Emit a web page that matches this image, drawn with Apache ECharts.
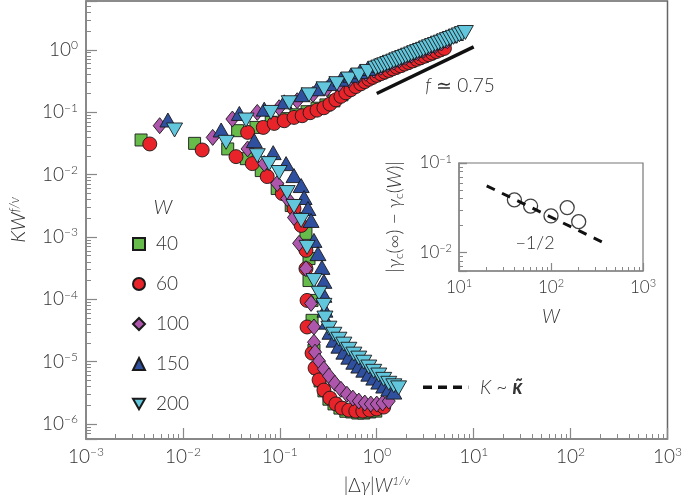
<!DOCTYPE html>
<html><head><meta charset="utf-8">
<script src="https://cdn.jsdelivr.net/npm/echarts@6/dist/echarts.min.js"></script>
<style>html,body{margin:0;padding:0;background:#fff}#c{width:685px;height:501px}</style>
</head><body><div id="c"></div>
<script>
// ---- main panel data: [|Δγ|W^{1/ν}, K W^{f/ν}] ----
const w40 = [
 [0.0037,0.0359],[0.0132,0.0317],
 [0.0367,0.0506],[0.0567,0.0571],[0.0815,0.069],[0.111,0.079],[0.147,0.091],[0.191,0.102],[0.242,0.116],[0.299,0.131],[0.361,0.152],[0.437,0.19],[0.515,0.235],[0.608,0.28],[0.718,0.32],[0.828,0.355],[0.954,0.39],[1.10,0.428],[1.27,0.465],[1.46,0.51],[1.68,0.555],[1.94,0.61],[2.24,0.665],[2.58,0.725],[2.97,0.79],[3.42,0.86],
 [0.029,0.0258],[0.0451,0.018],[0.0643,0.0116],[0.0939,0.00597],[0.131,0.00319],[0.158,0.00198],[0.186,0.00114],[0.200,4.5e-4],[0.200,2.0e-4],[0.215,9.6e-5],[0.215,4.6e-5],[0.225,1.53e-5],[0.242,7.9e-6],[0.26,4.9e-6],[0.285,3.4e-6],[0.321,2.5e-6],[0.362,2.1e-6],[0.417,1.8e-6],[0.48,1.6e-6],[0.553,1.56e-6],[0.638,1.5e-6],[0.735,1.5e-6],[0.847,1.56e-6],[0.977,1.61e-6]
];
const w60 = [
 [0.00455,0.031],[0.0158,0.0248],
 [0.0465,0.0475],[0.0675,0.0571],[0.0875,0.0662],[0.111,0.0731],[0.140,0.0826],[0.170,0.0879],[0.205,0.0982],[0.242,0.108],[0.285,0.118],[0.329,0.135],[0.379,0.158],[0.427,0.18],[0.480,0.205],[0.541,0.23],[0.608,0.258],[0.685,0.285],[0.753,0.31],[0.828,0.338],[0.910,0.363],[1.0,0.39],[1.10,0.415],[1.21,0.44],[1.33,0.468],[1.46,0.497],[1.61,0.528],[1.76,0.558],[1.94,0.592],[2.13,0.627],[2.34,0.664],[2.58,0.705],[2.83,0.746],[3.11,0.79],[3.42,0.838],[3.76,0.888],[4.13,0.94],[4.54,0.997],[4.99,1.056],
 [0.0353,0.0194],[0.052,0.015],[0.0741,0.0093],[0.106,0.00497],[0.140,0.00286],[0.166,0.00153],[0.186,6.1e-4],[0.186,3.1e-4],[0.191,9.6e-5],[0.191,3.6e-5],[0.215,1.37e-5],[0.231,7.9e-6],[0.254,5.1e-6],[0.285,3.5e-6],[0.329,2.6e-6],[0.379,2.1e-6],[0.437,1.8e-6],[0.515,1.67e-6],[0.608,1.61e-6],[0.718,1.61e-6],[0.847,1.67e-6],[1.0,1.74e-6],[1.18,1.87e-6]
];
const w100 = [
 [0.00576,0.0608],
 [0.0324,0.0778],[0.0585,0.0993],[0.0984,0.118],[0.151,0.153],[0.22,0.194],[0.306,0.238],[0.407,0.284],[0.516,0.329],[0.638,0.375],[0.771,0.422],[0.932,0.474],[1.10,0.526],[1.30,0.583],[1.50,0.636],[1.72,0.695],[1.99,0.759],[2.29,0.828],[2.64,0.904],[3.04,0.988],[3.50,1.08],[4.04,1.18],[4.65,1.29],[5.36,1.40],
 [0.0203,0.0395],[0.0465,0.0258],[0.069,0.015],[0.0939,0.00718],[0.119,0.00413],[0.140,0.00205],[0.158,7.9e-4],[0.186,3.1e-4],[0.21,8.6e-5],[0.225,3.6e-5],[0.225,2.05e-5],[0.231,1.42e-5],[0.254,1.02e-5],[0.285,7.6e-6],[0.321,5.9e-6],[0.370,4.5e-6],[0.427,3.6e-6],[0.492,3.0e-6],[0.567,2.6e-6],[0.653,2.33e-6],[0.753,2.17e-6],[0.868,2.09e-6],[1.0,2.09e-6],[1.15,2.17e-6],[1.33,2.33e-6]
];
const w150 = [
 [0.0070,0.075],
 [0.0382,0.0957],[0.069,0.112],[0.111,0.147],[0.170,0.191],[0.242,0.238],[0.329,0.288],[0.427,0.339],[0.541,0.392],[0.669,0.448],[0.808,0.504],[0.976,0.566],[1.15,0.627],[1.36,0.695],[1.57,0.759],[1.81,0.829],[2.08,0.905],[2.40,0.988],[2.77,1.08],[3.19,1.18],[3.67,1.29],[4.23,1.41],[4.88,1.54],[5.62,1.68],[6.48,1.83],
 [0.0248,0.0519],[0.0545,0.035],[0.0854,0.0225],[0.116,0.015],[0.140,0.00964],[0.166,0.00667],[0.178,0.00429],[0.195,0.00286],[0.21,0.00184],[0.225,8.8e-4],[0.2475,5.4e-4],[0.272,3.25e-4],[0.285,1.94e-4],[0.285,1.16e-4],[0.292,6.7e-5],[0.306,4.3e-5],[0.329,2.96e-5],[0.362,2.21e-5],[0.407,1.77e-5],[0.458,1.42e-5],[0.515,1.18e-5],[0.58,9.8e-6],[0.653,8.5e-6],[0.735,7.3e-6],[0.828,6.3e-6],[0.932,5.45e-6],[1.05,4.7e-6],[1.18,4.06e-6],[1.33,3.63e-6],[1.50,3.25e-6]
];
const w200 = [
 [0.0082,0.0519],
 [0.0448,0.075],[0.0809,0.0993],[0.125,0.142],[0.2,0.19],[0.286,0.237],[0.388,0.287],[0.515,0.341],[0.653,0.395],[0.809,0.451],[0.977,0.508],[1.05,0.53],[1.125,0.553],[1.21,0.578],[1.30,0.604],[1.39,0.632],[1.50,0.66],[1.61,0.69],[1.72,0.721],[1.85,0.753],[1.99,0.787],[2.13,0.822],[2.29,0.859],[2.46,0.898],[2.64,0.938],[2.83,0.98],[3.04,1.02],[3.26,1.07],[3.50,1.12],[3.76,1.17],[4.04,1.22],[4.33,1.28],[4.65,1.33],[4.99,1.39],[5.36,1.46],[5.75,1.52],[6.18,1.59],[6.63,1.66],[7.12,1.74],[7.64,1.82],[8.21,1.90],
 [0.0279,0.0329],[0.0585,0.0201],[0.0777,0.015],[0.0984,0.0108],[0.119,0.00515],[0.140,0.00308],[0.166,0.00184],[0.191,6.8e-4],[0.225,2.0e-4],[0.254,1.25e-4],[0.285,8.0e-5],[0.292,5.0e-5],[0.321,3.44e-5],[0.361,2.75e-5],[0.407,2.29e-5],[0.458,1.91e-5],[0.515,1.58e-5],[0.581,1.32e-5],[0.653,1.14e-5],[0.735,9.8e-6],[0.828,8.2e-6],[0.931,7.0e-6],[1.05,6.1e-6],[1.18,5.2e-6],[1.33,4.5e-6],[1.50,4.1e-6],[1.68,3.8e-6]
];
const seriesNames = ['40','60','100','150','200'];
// guide lines
const fitX = [1, 10];
const fitY = [0.2, 1.12];
const kappaX = [3.0, 8.8];
const kappaY = [3.9e-6, 3.9e-6];
// ---- inset data ----
const insetW = [40, 60, 100, 150, 200];
const insetGap = [0.0387, 0.033, 0.0256, 0.0317, 0.0221];
const slopeW = [20, 400];
const slopeGap = [0.0556, 0.0124];

const FONT = 'Lato';
const TXT = '#333';
const AX = '#888';
function pow10(v){
  const e = Math.log10(v), r = Math.round(e);
  if (Math.abs(e - r) > 1e-6) return '';
  return '{b|10}{s|' + (r < 0 ? '\u2212' + (-r) : r) + '}';
}
function richLab(big, small, pad){
  return {b:{fontSize:big,fontFamily:FONT,fontWeight:300,color:TXT},
          s:{fontSize:small,fontFamily:FONT,fontWeight:300,color:TXT,padding:[0,0,pad,0]}};
}
function logAxis(o){
  return Object.assign({
    type:'log', logBase:10,
    axisLine:{show:true,lineStyle:{color:AX,width:1.5}},
    axisTick:{show:true,inside:true,length:11,lineStyle:{color:AX,width:1.2}},
    minorTick:{show:true,splitNumber:9,length:5,lineStyle:{color:AX,width:1}},
    splitLine:{show:false}, minorSplitLine:{show:false},
    axisLabel:{formatter:pow10, rich:richLab(19,12,9), margin:7, hideOverlap:false}
  }, o);
}
const downTri = 'path://M0,0L16,0L8,14Z';
const mk = (name, data, symbol, size, color) => ({
  type:'scatter', name, data, symbol, symbolSize:size, xAxisIndex:0, yAxisIndex:0,
  itemStyle:{color, borderColor:'#1a1a1a', borderWidth:0.9, opacity:1},
  emphasis:{disabled:true}, silent:true
});
const series = [
  mk('40', w40, 'rect', 12, '#66bb4a'),
  mk('60', w60, 'circle', 14, '#e8242a'),
  mk('100', w100, 'diamond', [13,16], '#ad56ab'),
  mk('150', w150, 'triangle', [16,14], '#2f4f9f'),
  mk('200', w200, downTri, [16,14], '#62c6dd'),
  {type:'line', data:fitX.map((x,i)=>[x,fitY[i]]), showSymbol:false, symbol:'none',
   lineStyle:{color:'#111',width:3.5}, xAxisIndex:0, yAxisIndex:0, silent:true},
  {type:'line', data:kappaX.map((x,i)=>[x,kappaY[i]]), showSymbol:false, symbol:'none',
   lineStyle:{color:'#111',width:3.5,type:[9,6]}, xAxisIndex:0, yAxisIndex:0, silent:true},
  {type:'line', data:slopeW.map((x,i)=>[x,slopeGap[i]]), showSymbol:false, symbol:'none',
   lineStyle:{color:'#111',width:3,type:[9,8]}, xAxisIndex:1, yAxisIndex:1, silent:true},
  {type:'scatter', data:insetW.map((x,i)=>[x,insetGap[i]]), symbol:'circle', symbolSize:14,
   itemStyle:{color:'rgba(255,255,255,0)', borderColor:'#111', borderWidth:1.3},
   xAxisIndex:1, yAxisIndex:1, silent:true, z:5}
];
const chart = echarts.init(document.getElementById('c'), null, {renderer:'canvas'});
chart.setOption({
  animation:false,
  backgroundColor:'#fff',
  grid:[
    {left:86, right:15, top:1, bottom:62, show:true, borderColor:'#666', borderWidth:1.5, backgroundColor:'rgba(0,0,0,0)'},
    {left:459, right:42, top:163, bottom:230, show:true, borderColor:'#777', borderWidth:1.2, backgroundColor:'#fff'}
  ],
  xAxis:[
    logAxis({gridIndex:0, min:0.001, max:1000,
      name:'{t||\u0394}{i|\u03b3}{t||}{i|W}{s|1/\u03bd}', nameLocation:'middle', nameGap:36,
      nameTextStyle:{rich:{t:{fontSize:19,fontFamily:FONT,fontWeight:300,color:TXT},
        i:{fontSize:19,fontFamily:FONT,fontWeight:300,fontStyle:'italic',color:TXT},
        s:{fontSize:12,fontFamily:FONT,fontWeight:300,fontStyle:'italic',color:TXT,padding:[0,0,9,0]}}}}),
    logAxis({gridIndex:1, min:10, max:1000,
      axisTick:{show:true,inside:true,length:8,lineStyle:{color:AX,width:1.2}},
      minorTick:{show:true,splitNumber:9,length:4,lineStyle:{color:AX,width:1}},
      axisLabel:{formatter:pow10, rich:richLab(17,11,8), margin:7},
      name:'W', nameLocation:'middle', nameGap:36,
      nameTextStyle:{fontSize:19,fontFamily:FONT,fontWeight:300,fontStyle:'italic',color:TXT}})
  ],
  yAxis:[
    logAxis({gridIndex:0, min:5.75e-7, max:6.08,
      axisLabel:{formatter:pow10, rich:richLab(19,12,9), margin:8, showMinLabel:false, showMaxLabel:false},
      name:'{i|KW}{s|f/\u03bd}', nameLocation:'middle', nameGap:56,
      nameTextStyle:{rich:{i:{fontSize:20,fontFamily:FONT,fontWeight:300,fontStyle:'italic',color:TXT},
        s:{fontSize:13,fontFamily:FONT,fontWeight:300,fontStyle:'italic',color:TXT,padding:[0,0,9,0]}}}}),
    logAxis({gridIndex:1, min:0.0062, max:0.1,
      axisTick:{show:true,inside:true,length:8,lineStyle:{color:AX,width:1.2}},
      minorTick:{show:true,splitNumber:9,length:4,lineStyle:{color:AX,width:1}},
      axisLabel:{formatter:pow10, rich:richLab(17,11,8), margin:7, showMinLabel:false},
      name:'{t||}{i|\u03b3}{u|c}{t|(\u221e) \u2212 }{i|\u03b3}{u|c}{t|(}{i|W}{t|)|}', nameLocation:'middle', nameGap:54,
      nameTextStyle:{rich:{t:{fontSize:19,fontFamily:FONT,fontWeight:300,color:TXT},
        i:{fontSize:19,fontFamily:FONT,fontWeight:300,fontStyle:'italic',color:TXT},
        u:{fontSize:12,fontFamily:FONT,fontWeight:300,color:TXT,padding:[8,0,0,0]}}}})
  ],
  legend:{
    show:true, data:seriesNames, orient:'vertical', left:127, top:229,
    itemWidth:12, itemHeight:12, itemGap:20, selectedMode:false,
    textStyle:{fontSize:19,fontFamily:FONT,fontWeight:300,color:TXT,lineHeight:20,padding:[0,0,0,6]}
  },
  graphic:[
    {type:'text', x:163, y:208, style:{text:'W', font:'italic 300 20px Lato', fill:TXT, align:'center', verticalAlign:'middle'}},
    {type:'text', x:460, y:86, style:{text:'{i|f} \u2243 0.75', align:'center', verticalAlign:'middle',
      rich:{i:{fontSize:19,fontFamily:FONT,fontWeight:300,fontStyle:'italic',fill:TXT,color:TXT}},
      fontSize:19, fontFamily:FONT, fontWeight:300, fill:TXT}},
    {type:'text', x:480, y:388, style:{text:'{i|K} ~ {k|\u03ba\u0303}', align:'left', verticalAlign:'middle',
      rich:{i:{fontSize:19,fontFamily:FONT,fontWeight:300,fontStyle:'italic',fill:TXT},
            k:{fontSize:20,fontFamily:FONT,fontWeight:'bold',fontStyle:'italic',fill:TXT}},
      fontSize:19, fontFamily:FONT, fontWeight:300, fill:TXT}},
    {type:'text', x:535, y:243, style:{text:'\u22121/2', align:'center', verticalAlign:'middle',
      fontSize:18, fontFamily:FONT, fontWeight:300, fill:TXT}, z:100}
  ],
  series
});
</script></body></html>
